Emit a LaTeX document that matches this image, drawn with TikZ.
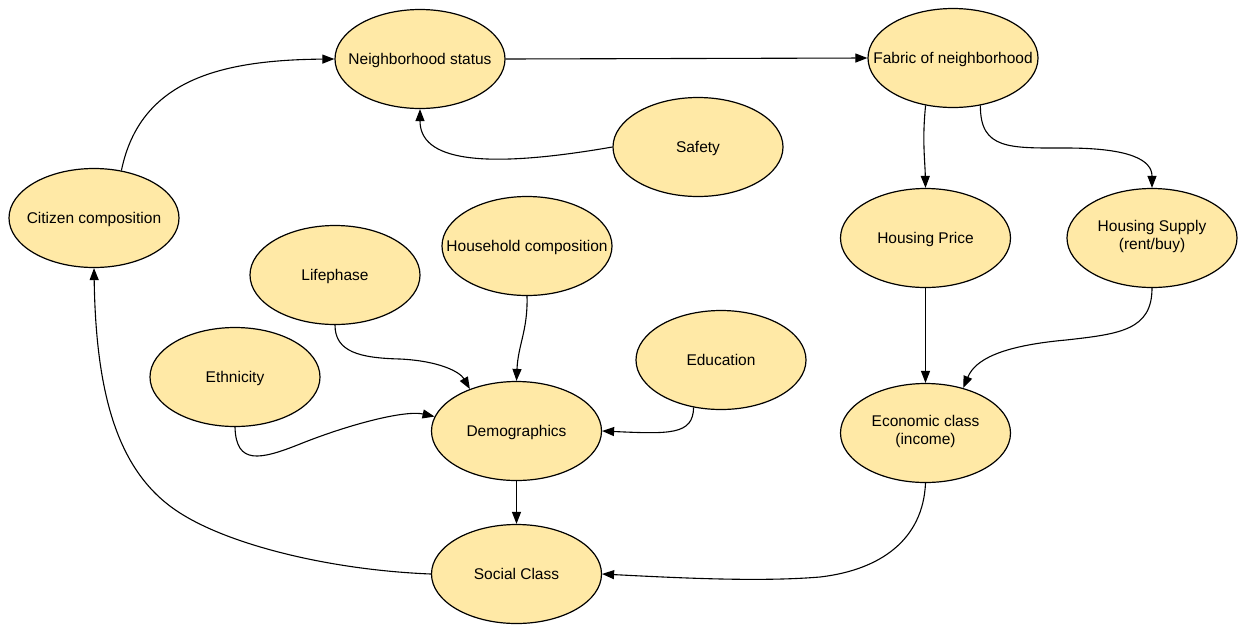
\documentclass[tikz,border=0pt]{standalone}
\usepackage{fontspec}
\setmainfont{Liberation Sans}
\usetikzlibrary{shapes.geometric,arrows.meta}
\definecolor{nodefill}{RGB}{255,233,166}
% labels take no room, so every ellipse keeps its fixed size;
% the baseline is placed relative to the ellipse centre
\newcommand{\ntext}[1]{\raisebox{-5.5pt}[0pt][0pt]{\makebox[0pt]{#1}}}
\newcommand{\ntextb}[1]{\raisebox{7pt}[0pt][0pt]{\makebox[0pt]{\begin{tabular}[t]{@{}c@{}}#1\end{tabular}}}}
\begin{document}
\begin{tikzpicture}[x=1pt,y=-1pt,
  factor/.style={ellipse, draw=black, fill=nodefill, line width=1.2pt,
    minimum width=170pt, minimum height=99pt, inner sep=0pt,
    font=\fontsize{15.5}{18.5}\selectfont},
  link/.style={draw=black, line width=1.1pt, -{Triangle[length=12pt,width=9pt]}}]
\useasboundingbox (0,0) rectangle (1239,625);

% factors
\node[factor] (ns)  at (420,59)  {\ntext{Neighborhood status}};
\node[factor] (fab) at (953,58)  {\ntext{Fabric of neighborhood}};
\node[factor] (saf) at (698,147) {\ntext{Safety}};
\node[factor] (cc)  at (94,218)  {\ntext{Citizen composition}};
\node[factor] (hc)  at (527,246) {\ntext{Household composition}};
\node[factor] (lp)  at (335,275) {\ntext{Lifephase}};
\node[factor] (hp)  at (925.5,238) {\ntext{Housing Price}};
\node[factor] (hs)  at (1152,238) {\ntextb{Housing Supply\\(rent/buy)}};
\node[factor] (edu) at (721,360) {\ntext{Education}};
\node[factor] (eth) at (235,377) {\ntext{Ethnicity}};
\node[factor] (dem) at (516.5,431) {\ntext{Demographics}};
\node[factor] (ec)  at (925.5,433) {\ntextb{Economic class\\(income)}};
\node[factor] (sc)  at (516.5,574) {\ntext{Social Class}};

% influences
\draw[link] (cc.60) .. controls (140,80) and (220,60) .. (ns.west);
\draw[link] (ns.east) -- (fab.west);
\draw[link] (saf.west) .. controls (480,170) and (420,160) .. (ns.south);
\draw[link] (fab.-120) .. controls (922,140) and (925,160) .. (hp.north);
\draw[link] (fab.-60) .. controls (980,150) and (1010,148) .. (1066,148)
  .. controls (1130,148) and (1152,160) .. (hs.north);
\draw[link] (hp.south) -- (ec.north);
\draw[link] (hs.south) .. controls (1152,330) and (1120,334) .. (1066,340)
  .. controls (1000,346) and (975,360) .. (ec.50);
\draw[link] (ec.south) .. controls (923,540) and (880,570) .. (820,577)
  .. controls (760,582) and (680,578) .. (sc.east);
\draw[link] (dem.south) -- (sc.north);
\draw[link] (sc.west) .. controls (330,570) and (230,545) .. (180,513)
  .. controls (120,475) and (96,400) .. (cc.south);
\draw[link] (lp.south) .. controls (335,352) and (360,358) .. (400,359)
  .. controls (440,361) and (460,372) .. (dem.138);
\draw[link] (hc.south) .. controls (528,330) and (518,345) .. (dem.north);
\draw[link] (eth.south) .. controls (236,465) and (260,460) .. (300,444)
  .. controls (350,424) and (405,410) .. (dem.170);
\draw[link] (edu.-120) .. controls (693,435) and (670,434) .. (dem.east);
\end{tikzpicture}
\end{document}
